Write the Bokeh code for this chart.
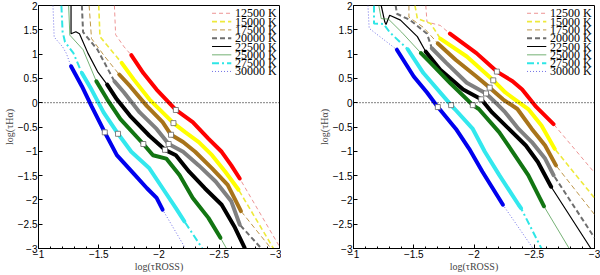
from bokeh.plotting import figure
from bokeh.layouts import row
from bokeh.models import Range1d, SingleIntervalTicker, Span, CustomJSTickFormatter
from bokeh.core.properties import value
from bokeh.embed import file_html
from bokeh.resources import INLINE

temps = [12500, 15000, 17500, 20000, 22500, 25000, 27500, 30000]
labels = [f"{t} K" for t in temps]

# ---------------- left panel data ----------------
L_up_x = [[-1.63, -1.64, -1.71], [-1.50, -1.51, -1.60], [-1.42, -1.44, -1.55], [-1.36, -1.37, -1.49],
          [-1.27, -1.27, -1.31, -1.34, -1.41, -1.49], [-1.25, -1.26, -1.37], [-1.19, -1.20, -1.22, -1.29],
          [-1.12, -1.13, -1.20, -1.23]]
L_up_y = [[2.0, 1.40, 1.15], [2.0, 1.36, 1.09], [2.0, 1.32, 0.95], [2.0, 1.45, 1.09],
          [2.0, 1.42, 1.46, 1.42, 1.02, 0.64], [2.0, 1.39, 1.09], [2.0, 1.46, 1.25, 1.02],
          [2.0, 1.35, 1.15, 1.02]]
L_mid_x = [[-1.77, -1.87, -1.98, -2.14, -2.28, -2.41, -2.52, -2.60, -2.67],
           [-1.69, -1.79, -1.92, -2.12, -2.22, -2.33, -2.44, -2.55, -2.66],
           [-1.67, -1.76, -1.90, -2.03, -2.10, -2.20, -2.30, -2.44, -2.57, -2.68],
           [-1.63, -1.71, -1.84, -1.98, -2.08, -2.20, -2.33, -2.47, -2.60, -2.67],
           [-1.57, -1.65, -1.76, -1.92, -2.05, -2.14, -2.25, -2.38, -2.52, -2.63, -2.71],
           [-1.48, -1.57, -1.68, -1.87, -1.95, -2.06, -2.17, -2.28, -2.41, -2.51],
           [-1.36, -1.44, -1.54, -1.66, -1.77, -1.92, -2.03, -2.14, -2.21],
           [-1.27, -1.36, -1.44, -1.55, -1.65, -1.79, -1.90, -1.98, -2.03]]
L_mid_y = [[0.98, 0.61, 0.27, -0.15, -0.40, -0.74, -1.01, -1.29, -1.56],
           [0.82, 0.48, 0.07, -0.42, -0.61, -0.81, -1.08, -1.42, -1.79],
           [0.58, 0.34, -0.07, -0.40, -0.66, -0.81, -1.01, -1.35, -1.69, -2.23],
           [0.44, 0.21, -0.20, -0.54, -0.85, -1.01, -1.29, -1.62, -2.03, -2.51],
           [0.37, 0.07, -0.27, -0.68, -0.97, -1.08, -1.42, -1.76, -2.10, -2.57, -2.98],
           [0.44, 0.07, -0.34, -0.85, -1.08, -1.15, -1.49, -1.96, -2.37, -2.78],
           [0.61, 0.27, -0.20, -0.64, -1.01, -1.35, -1.76, -2.17, -2.44],
           [0.75, 0.34, -0.07, -0.61, -1.08, -1.46, -1.76, -1.96, -2.20]]
L_low_x = [[-3.0], [-2.95], [-2.93], [-2.85], [-2.72], [-2.56], [-2.36], [-2.22]]
L_low_y = [[-2.96], [-3.0], [-3.0], [-3.0], [-3.0], [-3.0], [-3.0], [-3.0]]
L_mark_x = [-2.14, -2.12, -2.10, -2.08, -2.05, -1.87, -1.66, -1.55]
L_mark_y = [-0.15, -0.42, -0.66, -0.85, -0.97, -0.85, -0.64, -0.61]

# ---------------- right panel data ----------------
R_up_x = [[-1.60, -1.61, -1.72], [-1.51, -1.53, -1.64], [-1.46, -1.46, -1.58], [-1.35, -1.36, -1.47, -1.61],
          [-1.23, -1.26, -1.27, -1.30, -1.39, -1.53], [-1.21, -1.23, -1.29, -1.40], [-1.17, -1.17, -1.25, -1.30],
          [-1.12, -1.13, -1.25]]
R_up_y = [[2.0, 1.66, 1.59], [2.0, 1.73, 1.63], [2.0, 1.76, 1.55], [2.0, 1.83, 1.70, 1.42],
          [2.0, 1.66, 1.61, 1.80, 1.70, 1.36], [2.0, 1.73, 1.72, 1.45], [2.0, 1.63, 1.62, 1.45],
          [2.0, 1.53, 1.30]]
R_mid_x = [[-1.80, -2.02, -2.19, -2.32, -2.40, -2.51, -2.66],
           [-1.72, -1.94, -2.16, -2.26, -2.45, -2.56, -2.67],
           [-1.70, -1.85, -2.02, -2.13, -2.24, -2.36, -2.48, -2.59, -2.68],
           [-1.65, -1.77, -1.94, -2.10, -2.18, -2.26, -2.37, -2.48, -2.59, -2.66],
           [-1.60, -1.72, -1.91, -2.06, -2.15, -2.29, -2.43, -2.53, -2.64],
           [-1.56, -1.64, -1.80, -1.99, -2.04, -2.21, -2.32, -2.45, -2.58],
           [-1.45, -1.58, -1.81, -1.84, -1.99, -2.09, -2.21, -2.37, -2.39],
           [-1.36, -1.50, -1.61, -1.70, -1.85, -1.96, -2.07, -2.24]]
R_mid_y = [[1.42, 1.02, 0.64, 0.44, 0.27, -0.07, -0.44],
           [1.32, 0.95, 0.46, 0.21, -0.13, -0.47, -0.95],
           [1.22, 0.88, 0.54, 0.31, 0.07, -0.13, -0.54, -0.88, -1.29],
           [1.12, 0.82, 0.41, 0.19, 0.00, -0.20, -0.54, -0.81, -1.15, -1.49],
           [1.05, 0.68, 0.27, 0.07, -0.20, -0.54, -0.88, -1.22, -1.73],
           [1.02, 0.82, 0.41, -0.05, -0.13, -0.61, -1.01, -1.49, -2.13],
           [1.10, 0.61, -0.05, -0.13, -0.54, -1.01, -1.49, -2.10, -2.17],
           [1.09, 0.54, 0.21, -0.09, -0.54, -0.95, -1.42, -2.10]]
R_low_x = [[-3.0], [-3.0], [-3.0], [-3.0], [-2.97], [-2.79], [-2.56], [-2.49]]
R_low_y = [[-1.44], [-1.96], [-2.30], [-2.78], [-3.0], [-3.0], [-3.0], [-3.0]]
R_mark_x = [-2.19, -2.16, -2.13, -2.10, -2.06, -1.99, -1.81, -1.70]
R_mark_y = [0.64, 0.46, 0.31, 0.19, 0.07, -0.05, -0.05, -0.09]

x_ticks_step = 0.5
y_ticks_step = 0.5

# ---------------- styles ----------------
thin_color = ["#e87878", "#eeea3c", "#b58a35", "#6e6e6e", "#000000", "#3a8f3a", "#2ee6e6", "#7070e6"]
thin_width = [0.8, 1.6, 0.9, 2.0, 1.2, 0.7, 2.0, 1.0]
thin_dash = ["4 3", "5 3", "5 3", "5 3", "solid", "solid", "7 3 2 3", "1 2"]
thick_color = ["#ff0000", "#ffff00", "#a8741a", "#808080", "#000000", "#127512", "#33e8ee", "#0000ee"]

# legend placement (data units of the panel, upper-right corner)
LEG_X0, LEG_X1, LEG_TX = -2.44, -2.60, -2.63
LEG_Y0, LEG_DY = 1.84, 0.171

minus_fmt = "return (tick < 0 ? '\u2212' : '') + Math.abs(tick).toString();"


def style_axis(ax):
    ax.major_tick_in = 4
    ax.major_tick_out = 0
    ax.minor_tick_in = 2
    ax.minor_tick_out = 0
    ax.axis_line_color = "black"
    ax.major_label_text_font = "Liberation Sans"
    ax.major_label_text_color = "black"
    ax.major_label_text_font_size = "10px"
    ax.major_label_standoff = 1
    ax.axis_label_text_font = "Liberation Serif"
    ax.axis_label_text_font_style = "normal"
    ax.axis_label_text_font_size = "10px"
    ax.axis_label_standoff = 0


def make_panel(up_x, up_y, mid_x, mid_y, low_x, low_y, mk_x, mk_y, left_border, right_border):
    p = figure(frame_width=241, frame_height=243, x_range=Range1d(-1, -3), y_range=Range1d(-3, 2),
               output_backend="svg", toolbar_location=None, min_border_left=left_border,
               min_border_right=right_border, min_border_top=5, min_border_bottom=0)
    p.grid.visible = False
    p.outline_line_color = "black"
    p.outline_line_alpha = 1

    p.xaxis.ticker = SingleIntervalTicker(interval=x_ticks_step, num_minor_ticks=5)
    p.yaxis.ticker = SingleIntervalTicker(interval=y_ticks_step, num_minor_ticks=0)
    fmt = CustomJSTickFormatter(code=minus_fmt)
    p.xaxis.formatter = fmt
    p.yaxis.formatter = fmt
    p.xaxis.axis_label = "log(τROSS)"
    p.yaxis.axis_label = "log(τHα)"
    for ax in p.xaxis + p.yaxis:
        style_axis(ax)

    p.add_layout(Span(location=0, dimension="width", line_color="black", line_dash="1 2", line_width=1))

    for i in range(len(labels)):
        fx = up_x[i] + mid_x[i] + low_x[i]
        fy = up_y[i] + mid_y[i] + low_y[i]
        p.line(fx, fy, line_color=thin_color[i], line_width=thin_width[i], line_dash=thin_dash[i])
    for i in range(len(labels)):
        p.line(mid_x[i], mid_y[i], line_color=thick_color[i], line_width=4, line_cap="round")
    p.scatter(mk_x, mk_y, marker="square", size=5, fill_color="white", line_color="#666666", line_width=0.8)

    # legend drawn as sample lines + texts in the upper-right corner
    ys = [LEG_Y0 - i * LEG_DY for i in range(len(labels))]
    for i in range(len(labels)):
        p.line([LEG_X0, LEG_X1], [ys[i], ys[i]], line_color=thin_color[i],
               line_width=thin_width[i], line_dash=thin_dash[i])
    p.text(x=[LEG_TX] * len(labels), y=ys, text=labels, text_font=value("Liberation Serif"),
           text_font_size="12px", text_baseline="middle", text_align="left", text_color="black")
    return p


p1 = make_panel(L_up_x, L_up_y, L_mid_x, L_mid_y, L_low_x, L_low_y, L_mark_x, L_mark_y, 20, 2)
p2 = make_panel(R_up_x, R_up_y, R_mid_x, R_mid_y, R_low_x, R_low_y, R_mark_x, R_mark_y, 72, 6)
layout = row(p1, p2)

open("out.html", "w").write(file_html(layout, INLINE))
